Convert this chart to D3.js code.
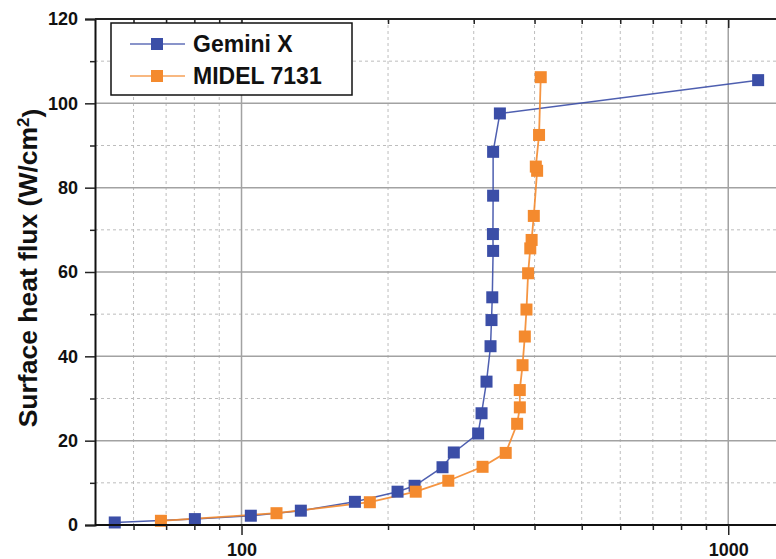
<!DOCTYPE html>
<html>
<head>
<meta charset="utf-8">
<script src="https://cdn.jsdelivr.net/npm/d3@7"></script>
<style>
  body { margin: 0; background: #fff; }
  svg text { font-family: "Liberation Sans", Arial, Helvetica, sans-serif; font-weight: bold; fill: #111; }
</style>
</head>
<body>
<div id="chart"></div>
<script>
// series values (x = log axis, y = surface heat flux)
var geminiX = [54.9, 80.2, 104.5, 132.4, 171, 209.2, 226.8, 258.8, 273, 306.3, 311.3, 318.7, 324.8, 326.3, 327.5, 328.8, 328.5, 328.8, 328.8, 339.5, 1152];
var geminiY = [0.6, 1.4, 2.2, 3.4, 5.5, 7.9, 9.3, 13.7, 17.2, 21.7, 26.5, 34.0, 42.4, 48.6, 54.0, 65.0, 69.0, 78.1, 88.5, 97.6, 105.5];
var midelX = [68.3, 118, 183.5, 228, 266, 312.8, 349, 368.4, 373.1, 373, 377.9, 382, 385, 388, 392, 394.5, 398.6, 404.9, 402.4, 408.6, 411.9];
var midelY = [1.0, 2.8, 5.4, 7.9, 10.5, 13.8, 17.1, 24.0, 27.9, 32.0, 37.9, 44.7, 51.1, 59.7, 65.6, 67.6, 73.3, 84.0, 85.0, 92.5, 106.2];

var seriesNames = ["Gemini X", "MIDEL 7131"];
var xMajorTicks = [100, 1000];
var xMinorTicks = [60, 70, 80, 90, 200, 300, 400, 500, 600, 700, 800, 900];
var yMajorTicks = [0, 20, 40, 60, 80, 100, 120];
var yMinorTicks = [10, 30, 50, 70, 90, 110];
var yTitle = "Surface heat flux (W/cm";

var w = 776, h = 559;
var mLeft = 95, mRight = 775.4, mTop = 19, mBottom = 525;
var blue = "#3b4ea7", orange = "#f48a2e";

var svg = d3.select("#chart").append("svg").attr("width", w).attr("height", h);

var x = d3.scaleLog().domain([50, 1250]).range([mLeft, mRight]);
var y = d3.scaleLinear().domain([0, 120]).range([mBottom, mTop]);

// grid
var grid = svg.append("g");
grid.selectAll(".vminor").data(xMinorTicks).enter().append("line")
    .attr("x1", function(d){ return x(d); }).attr("x2", function(d){ return x(d); })
    .attr("y1", mTop).attr("y2", mBottom)
    .attr("stroke", "#bdbdbd").attr("stroke-width", 1).attr("stroke-dasharray", "3,3");
grid.selectAll(".hminor").data(yMinorTicks).enter().append("line")
    .attr("x1", mLeft).attr("x2", w)
    .attr("y1", function(d){ return y(d); }).attr("y2", function(d){ return y(d); })
    .attr("stroke", "#bdbdbd").attr("stroke-width", 1).attr("stroke-dasharray", "3,3");
grid.selectAll(".vmajor").data(xMajorTicks).enter().append("line")
    .attr("x1", function(d){ return x(d); }).attr("x2", function(d){ return x(d); })
    .attr("y1", mTop).attr("y2", mBottom)
    .attr("stroke", "#a2a2a2").attr("stroke-width", 1.5);
grid.selectAll(".hmajor").data(yMajorTicks.filter(function(d){ return d > 0 && d < 120; })).enter().append("line")
    .attr("x1", mLeft).attr("x2", w)
    .attr("y1", function(d){ return y(d); }).attr("y2", function(d){ return y(d); })
    .attr("stroke", "#a2a2a2").attr("stroke-width", 1.5);

// series
var series = [
    { name: seriesNames[0], color: blue, width: 1.5, pts: geminiX.map(function(v, i){ return [v, geminiY[i]]; }) },
    { name: seriesNames[1], color: orange, width: 1.8, pts: midelX.map(function(v, i){ return [v, midelY[i]]; }) }
];
var line = d3.line().x(function(d){ return x(d[0]); }).y(function(d){ return y(d[1]); });
var ms = 12;

series.forEach(function(s){
    svg.append("path").attr("d", line(s.pts))
        .attr("fill", "none").attr("stroke", s.color).attr("stroke-width", s.width)
        .attr("stroke-opacity", 0.9);
});
series.forEach(function(s){
    svg.append("g").selectAll("rect").data(s.pts).enter().append("rect")
        .attr("x", function(d){ return x(d[0]) - ms / 2; })
        .attr("y", function(d){ return y(d[1]) - ms / 2; })
        .attr("width", ms).attr("height", ms)
        .attr("fill", s.color);
});

// axes
var xAxis = svg.append("g").attr("transform", "translate(0," + mBottom + ")")
    .call(d3.axisBottom(x).tickValues(xMajorTicks).tickFormat(d3.format("d")).tickSize(10).tickPadding(8));
svg.append("g").attr("transform", "translate(0," + mBottom + ")")
    .call(d3.axisBottom(x).tickValues(xMinorTicks).tickFormat("").tickSize(5))
    .select(".domain").remove();
var yAxis = svg.append("g").attr("transform", "translate(" + mLeft + ",0)")
    .call(d3.axisLeft(y).tickValues(yMajorTicks).tickSize(10).tickPadding(7));
svg.append("g").attr("transform", "translate(" + mLeft + ",0)")
    .call(d3.axisLeft(y).tickValues(yMinorTicks).tickFormat("").tickSize(5))
    .select(".domain").remove();
// top mirror axis, ticks inward
svg.append("g").attr("transform", "translate(0," + mTop + ")")
    .call(d3.axisBottom(x).tickValues(xMajorTicks).tickFormat("").tickSize(9))
    .select(".domain").remove();
svg.append("g").attr("transform", "translate(0," + mTop + ")")
    .call(d3.axisBottom(x).tickValues(xMinorTicks).tickFormat("").tickSize(5))
    .select(".domain").remove();
svg.append("line").attr("x1", mLeft).attr("x2", w).attr("y1", mTop).attr("y2", mTop)
    .attr("stroke", "#222").attr("stroke-width", 2);

[xAxis, yAxis].forEach(function(a){
    a.select(".domain").attr("stroke", "#111").attr("stroke-width", 2);
    a.selectAll("text").style("font-size", "18px");
});
xAxis.select(".domain").attr("d", "M" + mLeft + ",0H" + w);
svg.selectAll(".tick line").attr("stroke", "#222").attr("stroke-width", 1.5);

// y title
var yt = svg.append("text")
    .attr("transform", "translate(37,268) rotate(-90)")
    .attr("text-anchor", "middle")
    .style("font-size", "26.5px");
yt.append("tspan").text(yTitle);
yt.append("tspan").attr("dy", "-0.45em").style("font-size", "17px").text("2");
yt.append("tspan").attr("dy", "0.45em").text(")");

// legend
var lg = svg.append("g");
lg.append("rect").attr("x", 111).attr("y", 23).attr("width", 241).attr("height", 72)
    .attr("fill", "#fff").attr("stroke", "#111").attr("stroke-width", 1.5);
series.forEach(function(s, i){
    var ly = 44 + i * 32;
    lg.append("line").attr("x1", 130).attr("x2", 185).attr("y1", ly).attr("y2", ly)
        .attr("stroke", s.color).attr("stroke-width", 1.5).attr("stroke-opacity", 0.8);
    lg.append("rect").attr("x", 157 - ms / 2).attr("y", ly - ms / 2).attr("width", ms).attr("height", ms)
        .attr("fill", s.color);
    lg.append("text").attr("x", 193).attr("y", ly + 8).style("font-size", "23px").text(s.name);
});
</script>
</body>
</html>
